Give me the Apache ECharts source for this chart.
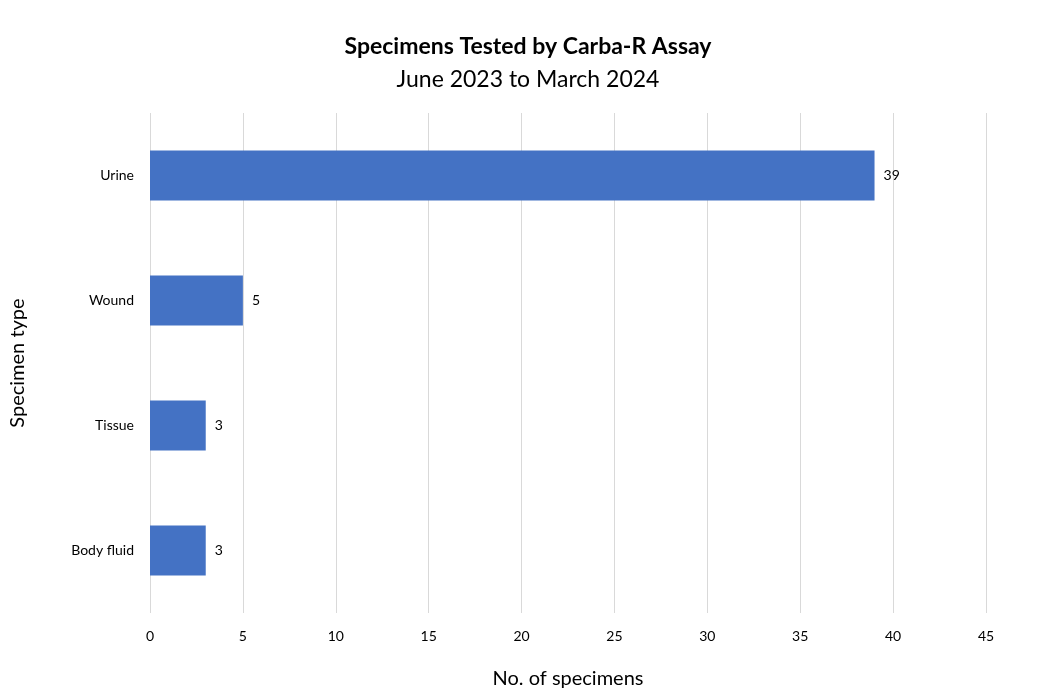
<!DOCTYPE html>
<html><head><meta charset="utf-8">
<script src="https://cdn.jsdelivr.net/npm/echarts@6/dist/echarts.min.js"></script>
<style>html,body{margin:0;padding:0;background:#fff}#c{width:1056px;height:697px}</style>
</head><body><div id="c"></div>
<script>
const categories = ['Body fluid', 'Tissue', 'Wound', 'Urine'];
const values = [3, 3, 5, 39];
const xTicks = [0, 5, 10, 15, 20, 25, 30, 35, 40, 45];
const chart = echarts.init(document.getElementById('c'));
const F = 'Lato, "Open Sans", sans-serif';
chart.setOption({
  animation: false,
  textStyle: { fontFamily: F },
  title: [
    { text: 'Specimens Tested by Carba-R Assay', left: 'center', top: 30, textStyle: { fontFamily: F, fontSize: 23, fontWeight: 'bold', color: '#000' } },
    { text: 'June 2023 to March 2024', left: 'center', top: 63, textStyle: { fontFamily: F, fontSize: 23, fontWeight: 'normal', color: '#000' } }
  ],
  grid: { left: 150, right: 70, top: 113, bottom: 84 },
  xAxis: {
    type: 'value', min: 0, max: 45, interval: 5,
    axisLine: { show: false }, axisTick: { show: false },
    splitLine: { lineStyle: { color: '#d9d9d9' } },
    axisLabel: { color: '#000', fontSize: 14, margin: 16, fontFamily: F },
    name: 'No. of specimens', nameLocation: 'middle', nameGap: 56,
    nameTextStyle: { fontSize: 20, color: '#000', fontFamily: F }
  },
  yAxis: {
    type: 'category', data: categories,
    axisLine: { show: false }, axisTick: { show: false },
    axisLabel: { color: '#000', fontSize: 14, margin: 16, fontFamily: F },
    name: 'Specimen type', nameLocation: 'middle', nameGap: 122, nameRotate: 90,
    nameTextStyle: { fontSize: 20, color: '#000', fontFamily: F }
  },
  series: [{
    type: 'bar', data: values, barWidth: 50,
    itemStyle: { color: '#4472c4' },
    label: { show: true, position: 'right', distance: 9, color: '#000', fontSize: 14, fontFamily: F }
  }]
});
</script></body></html>
